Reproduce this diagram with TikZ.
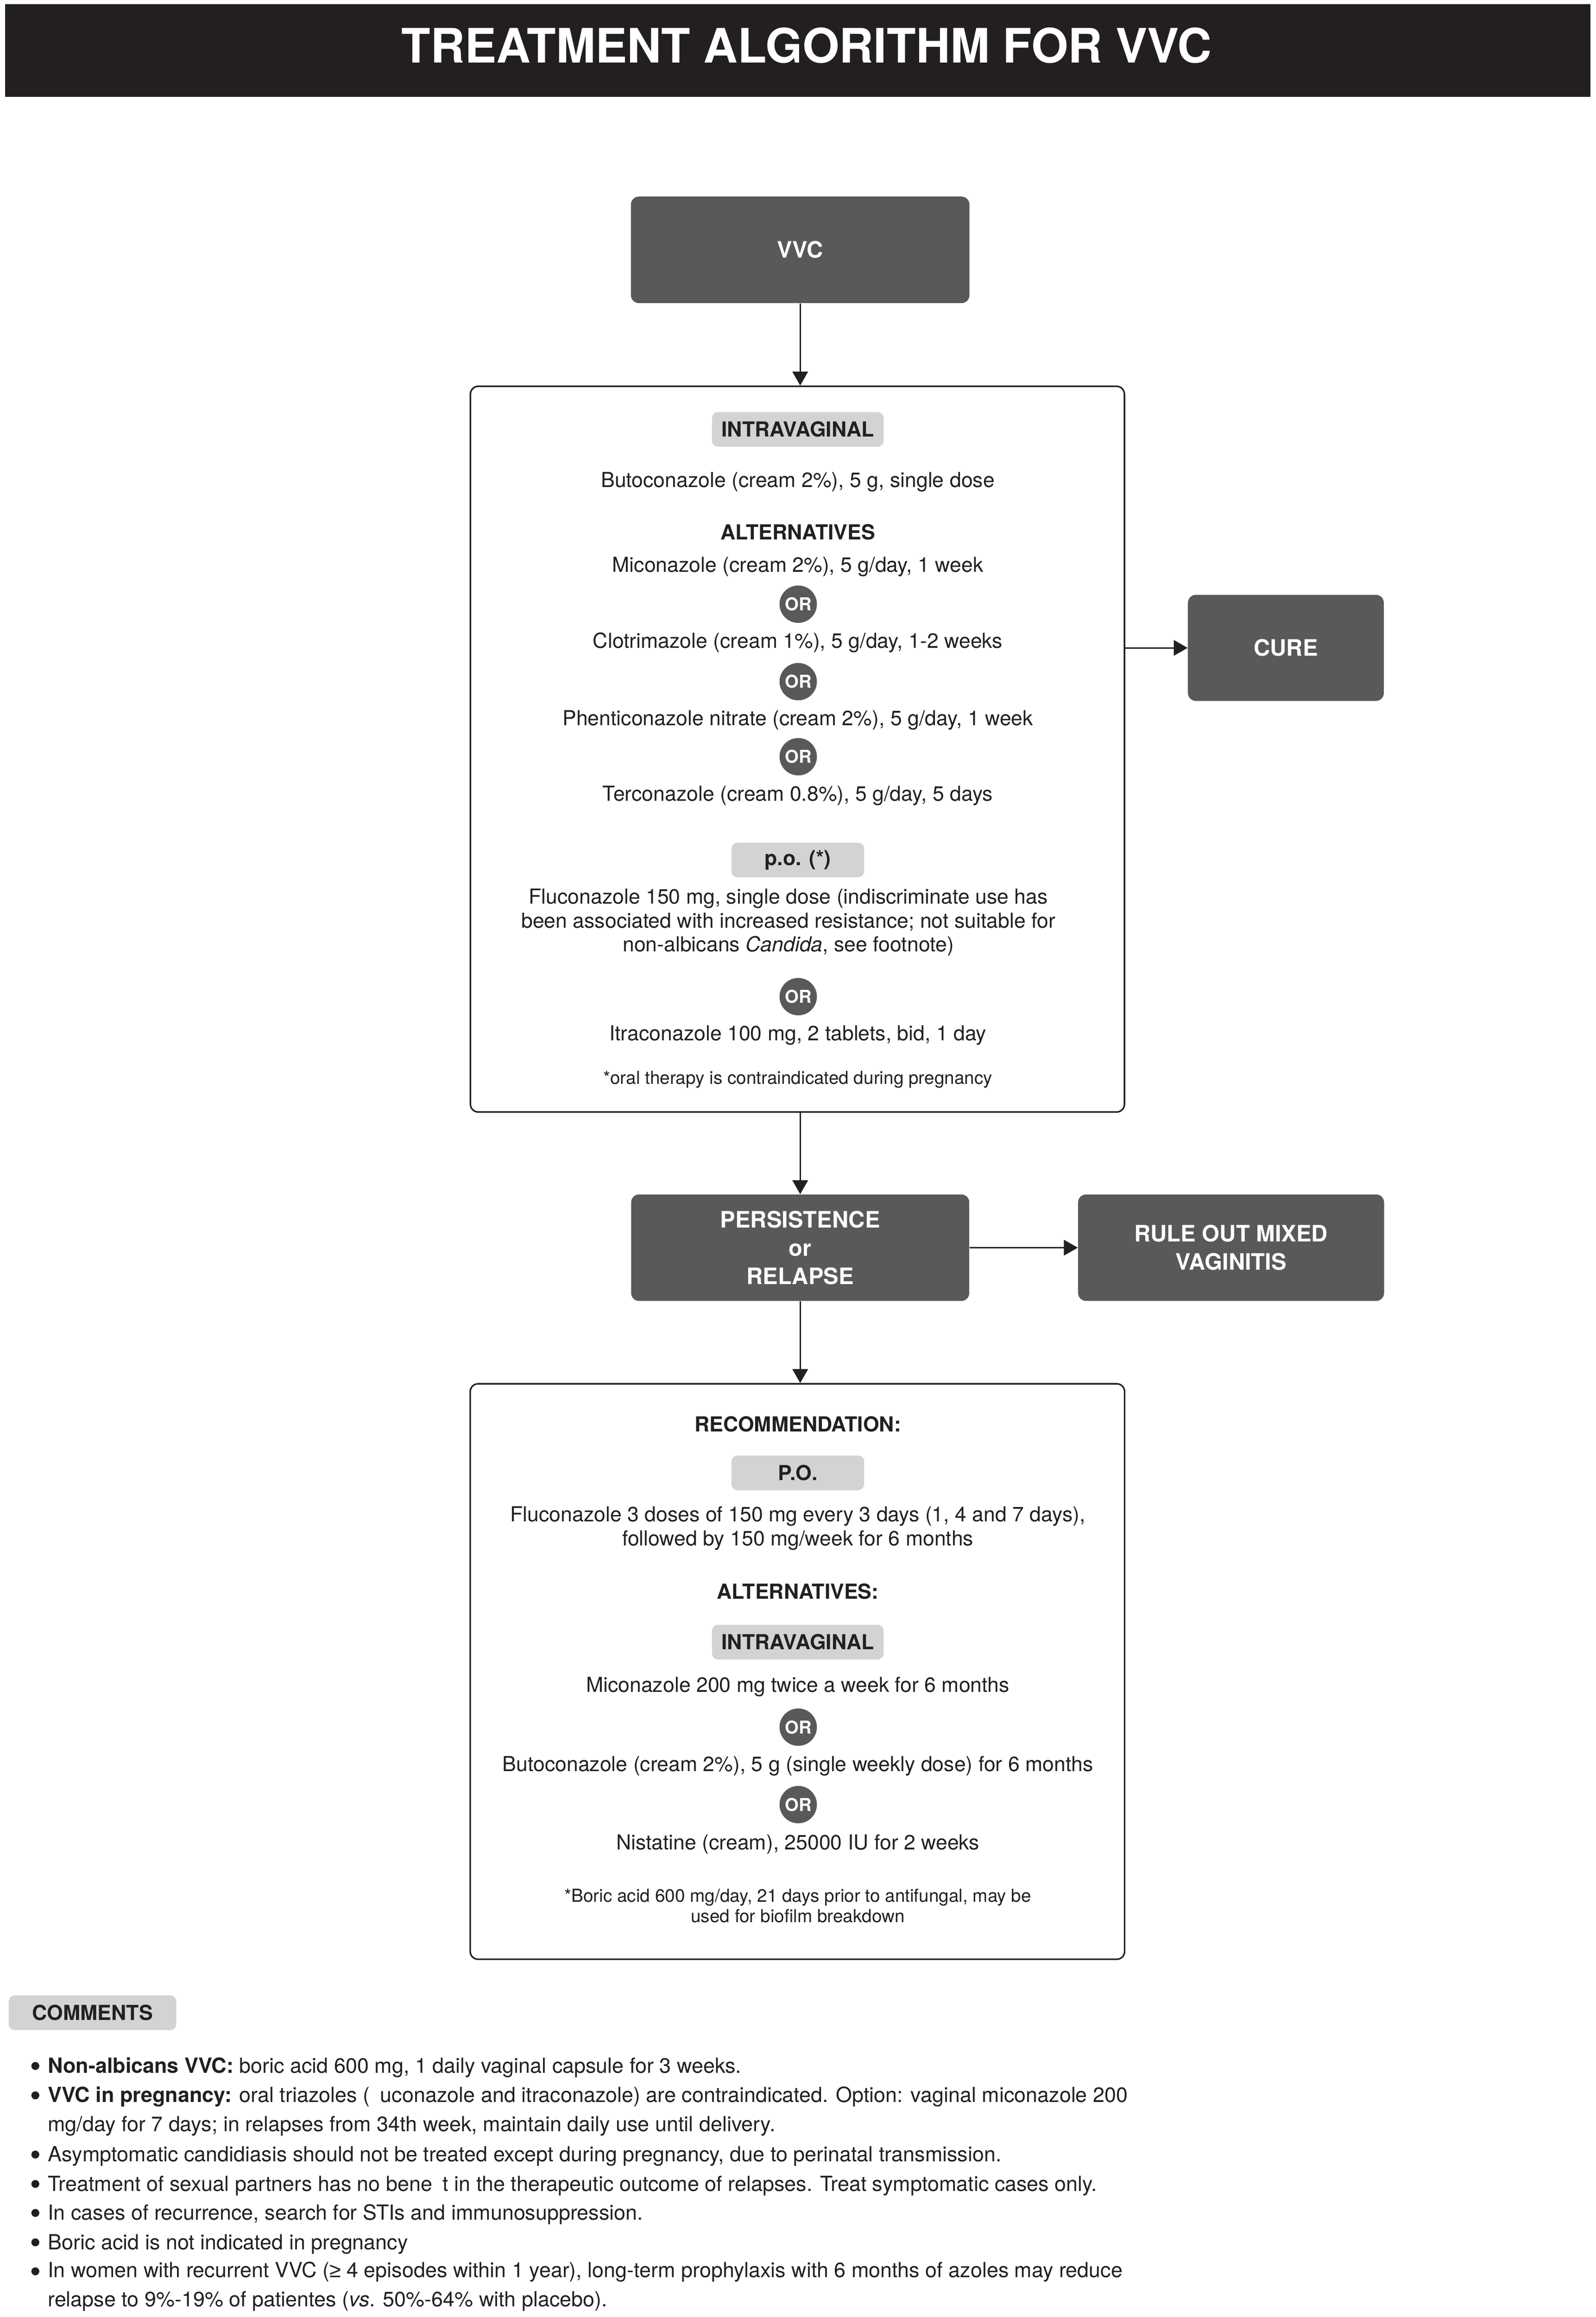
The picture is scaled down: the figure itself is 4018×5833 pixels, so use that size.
\documentclass[tikz,border=0pt]{standalone}
\usepackage{fontspec}
\setmainfont{TeX Gyre Heros}
\newfontfamily\symfont{Liberation Sans}
\usetikzlibrary{arrows.meta}

\definecolor{ink}{HTML}{231F20}
\definecolor{boxgray}{HTML}{58595B}
\definecolor{taggray}{HTML}{D1D3D4}

\begin{document}
\begin{tikzpicture}[x=0.01cm,y=-0.01cm,
        darkbox/.style={rectangle,rounded corners=0.2cm,fill=boxgray,text=white,align=center,
                        font=\bfseries\fontsize{16.2}{20.2}\selectfont},
        panel/.style={rectangle,rounded corners=0.2cm,draw=ink,line width=1.1pt},
        tag/.style={rectangle,rounded corners=0.15cm,fill=taggray,text=ink,minimum height=0.87cm,
                    font=\bfseries\fontsize{14.8}{17.2}\selectfont},
        body/.style={anchor=base,text=ink,align=center,inner sep=0pt,
                     font=\fontsize{14.8}{17.2}\selectfont},
        head/.style={body,font=\bfseries\fontsize{14.8}{17.2}\selectfont},
        small/.style={body,font=\fontsize{12.85}{14.8}\selectfont},
        orbadge/.style={circle,fill=boxgray,text=white,minimum size=0.94cm,inner sep=0pt,
                        font=\bfseries\fontsize{12.7}{14}\selectfont},
        comment/.style={anchor=base west,text=ink,align=left,inner sep=0pt,
                        font=\fontsize{14.9}{20.9}\selectfont},
        dot/.style={circle,fill=ink,minimum size=0.2cm,inner sep=0pt},
        flow/.style={-{Triangle[length=0.35cm,width=0.39cm]},draw=ink,line width=1pt}]
        \fill[white] (0,0) rectangle (4018,5833);
        \useasboundingbox (0,0) rectangle (4018,5833);
        \fill[ink] (13,10) rectangle (4005,244);
        \node (title) at (2031,115) [text=white,inner sep=0pt,font=\bfseries\fontsize{34}{40}\selectfont] {TREATMENT ALGORITHM FOR VVC};

        \node (vvc) at (2015,629) [darkbox,minimum width=8.52cm,minimum height=2.68cm] {VVC};
        \node (panel1) at (2008,1886) [panel,minimum width=16.46cm,minimum height=18.26cm] {};
        \node (cure) at (3238,1631) [darkbox,minimum width=4.93cm,minimum height=2.67cm] {CURE};
        \node (persist) at (2015,3141) [darkbox,minimum width=8.51cm,minimum height=2.68cm] {PERSISTENCE\\or\\RELAPSE};
        \node (mixed) at (3100,3141) [darkbox,minimum width=7.70cm,minimum height=2.68cm] {RULE OUT MIXED\\VAGINITIS};
        \node (panel2) at (2008,4208) [panel,minimum width=16.47cm,minimum height=14.48cm] {};

        \node (iv1) at (2009,1081) [tag,minimum width=4.32cm] {INTRAVAGINAL};
        \node (buto1) at (2009,1227) [body] {Butoconazole (cream 2\%), 5 g, single dose};
        \node (alt1) at (2009,1359) [head] {ALTERNATIVES};
        \node (mico1) at (2009,1440) [body] {Miconazole (cream 2\%), 5 g/day, 1 week};
        \node (or1) at (2010,1521) [orbadge] {OR};
        \node (clot) at (2009,1632) [body] {Clotrimazole (cream 1\%), 5 g/day, 1-2 weeks};
        \node (or2) at (2010,1716) [orbadge] {OR};
        \node (phen) at (2009,1826) [body] {Phenticonazole nitrate (cream 2\%), 5 g/day, 1 week};
        \node (or3) at (2010,1905) [orbadge] {OR};
        \node (terc) at (2009,2017) [body] {Terconazole (cream 0.8\%), 5 g/day, 5 days};
        \node (po1) at (2009,2165) [tag,minimum width=3.34cm] {p.o. (*)};
        \node (fluc1) at (1985,2396) [body] {Fluconazole 150 mg, single dose (indiscriminate use has\\been associated with increased resistance; not suitable for\\non-albicans \textit{Candida}, see footnote)};
        \node (or4) at (2010,2509) [orbadge] {OR};
        \node (itra) at (2009,2619) [body] {Itraconazole 100 mg, 2 tablets, bid, 1 day};
        \node (note1) at (2009,2729) [small] {*oral therapy is contraindicated during pregnancy};

        \node (reco) at (2009,3604) [head] {RECOMMENDATION:};
        \node (po2) at (2009,3708) [tag,minimum width=3.34cm] {P.O.};
        \node (fluc2) at (2009,3891) [body] {Fluconazole 3 doses of 150 mg every 3 days (1, 4 and 7 days),\\followed by 150 mg/week for 6 months};
        \node (alt2) at (2009,4025) [head] {ALTERNATIVES:};
        \node (iv2) at (2009,4134) [tag,minimum width=4.32cm] {INTRAVAGINAL};
        \node (mico2) at (2009,4260) [body] {Miconazole 200 mg twice a week for 6 months};
        \node (or5) at (2010,4348) [orbadge] {OR};
        \node (buto2) at (2009,4459) [body] {Butoconazole (cream 2\%), 5 g (single weekly dose) for 6 months};
        \node (or6) at (2010,4543) [orbadge] {OR};
        \node (nist) at (2009,4656) [body] {Nistatine (cream), 25000 IU for 2 weeks};
        \node (note2) at (2009,4840) [small] {*Boric acid 600 mg/day, 21 days prior to antifungal, may be\\used for biofilm breakdown};

        \draw[flow] (vvc.south) -- (vvc.south |- panel1.north);
        \draw[flow] (panel1.east |- cure.west) -- (cure.west);
        \draw[flow] (persist.north |- panel1.south) -- (persist.north);
        \draw[flow] (persist.east) -- (mixed.west);
        \draw[flow] (persist.south) -- (persist.south |- panel2.north);

        \node (comments) at (233,5067) [tag,minimum width=4.22cm] {COMMENTS};
        \node (b1) at (89,5201) [dot] {};
        \node (b2) at (89,5275) [dot] {};
        \node (b3) at (89,5424) [dot] {};
        \node (b4) at (89,5498) [dot] {};
        \node (b5) at (89,5571) [dot] {};
        \node (b6) at (89,5645) [dot] {};
        \node (b7) at (89,5718) [dot] {};
        \node (c1) at (120,5219) [comment] {\textbf{Non-albicans VVC:} boric acid 600 mg, 1 daily vaginal capsule for 3 weeks.};
        \node (c2) at (120,5366) [comment] {\textbf{VVC in pregnancy:} oral triazoles (\hspace{0.5em}uconazole and itraconazole) are contraindicated. Option: vaginal miconazole 200\\mg/day for 7 days; in relapses from 34th week, maintain daily use until delivery.};
        \node (c3) at (120,5442) [comment] {Asymptomatic candidiasis should not be treated except during pregnancy, due to perinatal transmission.};
        \node (c4) at (120,5516) [comment] {Treatment of sexual partners has no bene\hspace{0.5em}t in the therapeutic outcome of relapses. Treat symptomatic cases only.};
        \node (c5) at (120,5589) [comment] {In cases of recurrence, search for STIs and immunosuppression.};
        \node (c6) at (120,5663) [comment] {Boric acid is not indicated in pregnancy};
        \node (c7) at (120,5807) [comment] {In women with recurrent VVC ({\symfont ≥} 4 episodes within 1 year), long-term prophylaxis with 6 months of azoles may reduce\\relapse to 9\%-19\% of patientes (\textit{vs}. 50\%-64\% with placebo).};
\end{tikzpicture}
\end{document}
